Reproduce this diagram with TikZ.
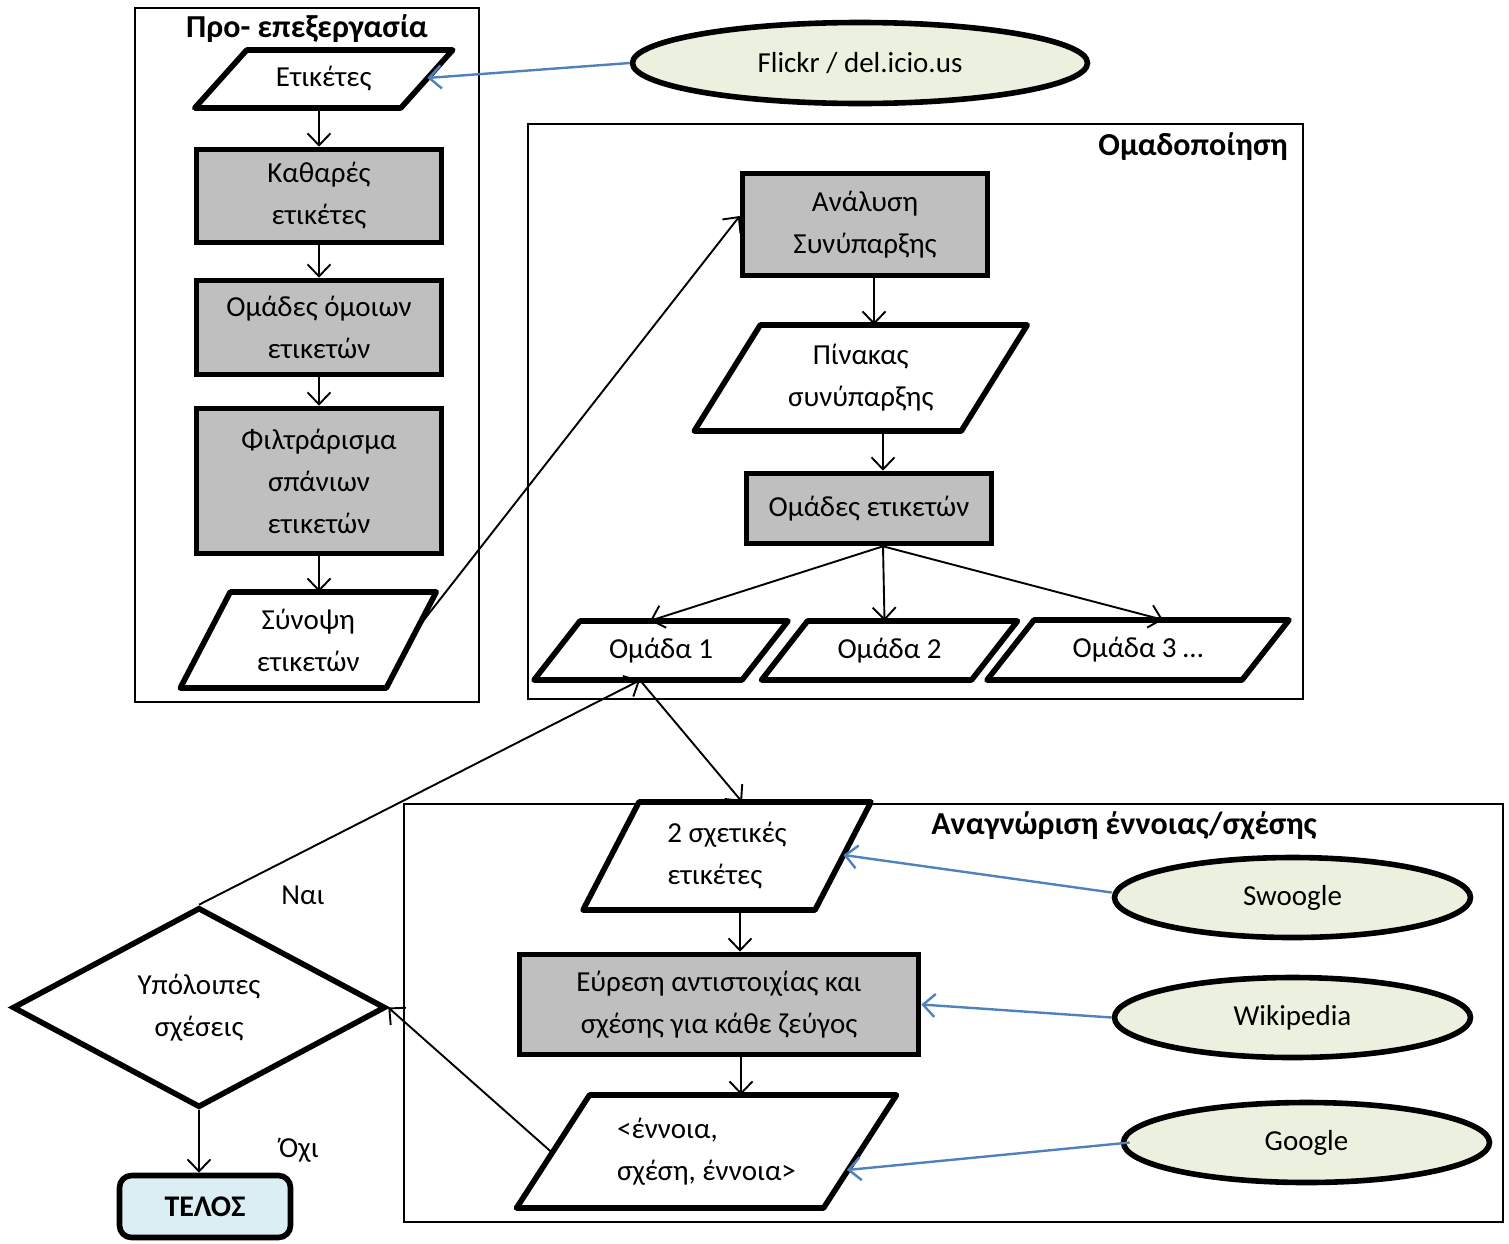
\documentclass[tikz,border=0pt]{standalone}
\usepackage{fontspec}
\setmainfont{Carlito}
\usetikzlibrary{arrows.meta,shapes.geometric}
\definecolor{procgray}{HTML}{BFBFBF}
\definecolor{srcfill}{HTML}{EBF1DE}
\definecolor{feedblue}{HTML}{4F81BD}
\definecolor{endfill}{HTML}{DAEEF3}

% parallelogram (input/output) box: [node options]{name}{cx}{cy}{half width}{half height}{half slant}{text}
\newcommand\iobox[8][]{%
  \draw[io] (#3-#5+#7,#4-#6) -- (#3+#5+#7,#4-#6) -- (#3+#5-#7,#4+#6) -- (#3-#5-#7,#4+#6) -- cycle;
  \node[iotext, minimum width={2*(#5+#7)}, minimum height={2*#6}, #1] (#2) at (#3,#4) {#8};
}

\begin{document}
\begin{tikzpicture}[x=1pt,y=-1pt,
  txt/.style={font=\fontsize{29}{42}\selectfont},
  ttl/.style={font=\bfseries\fontsize{32}{38}\selectfont, inner sep=0pt},
  frame/.style={draw, line width=2pt},
  proc/.style={txt, draw, line width=5.6pt, fill=procgray, align=center, inner sep=0pt},
  io/.style={draw, line width=5.6pt, fill=white, line join=round},
  iotext/.style={txt, align=center, inner sep=0pt},
  src/.style={txt, ellipse, draw, line width=5.6pt, fill=srcfill, inner sep=0pt},
  flow/.style={line width=1.9pt, -{Straight Barb[length=12pt,width=23pt]}},
  feed/.style={draw=feedblue, line width=2.4pt, -{Straight Barb[length=12pt,width=23pt]}},
]
\useasboundingbox (0,0) rectangle (1509,1243);

% ---------- group frames ----------
\draw[frame] (135,8) rectangle (479,702);
\draw[frame] (528,124) rectangle (1303,699);
\draw[frame] (404,804) rectangle (1503,1222);
\node[ttl] (t1) at (307,29) {Προ- επεξεργασία};
\node[ttl, anchor=east] (t2) at (1288,147) {Ομαδοποίηση};
\node[ttl] (t3) at (1124,826) {Αναγνώριση έννοιας/σχέσης};

% ---------- pre-processing ----------
\iobox{etik}{323.75}{79}{103}{29}{26}{Ετικέτες}
\node[proc, minimum width=245, minimum height=93] (kath) at (319,196) {Καθαρές\\ετικέτες};
\node[proc, minimum width=245, minimum height=94] (omo) at (319,327.5) {Ομάδες όμοιων\\ετικετών};
\node[proc, minimum width=245, minimum height=145] (fil) at (319,481) {Φιλτράρισμα\\σπάνιων\\ετικετών};
\iobox{syn}{308.25}{640}{103}{48}{25}{Σύνοψη\\ετικετών}

\node[src, minimum width=455, minimum height=81] (flickr) at (860,63) {Flickr / del.icio.us};

% ---------- clustering ----------
\node[proc, minimum width=245, minimum height=102] (ana) at (865,224.5) {Ανάλυση\\Συνύπαρξης};
\iobox{pinakas}{860.75}{378}{133.5}{53}{33}{Πίνακας\\συνύπαρξης}
\node[proc, minimum width=245, minimum height=70] (grp) at (869,508.5) {Ομάδες ετικετών};
\iobox{o1}{661}{650.5}{104}{29.5}{23}{Ομάδα 1}
\iobox{o2}{889.5}{650.5}{105}{29.5}{23}{Ομάδα 2}
\iobox{o3}{1138}{650}{127.5}{30}{23.5}{Ομάδα 3 …}

% ---------- concept / relation recognition ----------
\iobox[align=left]{pair}{727}{856}{116}{54}{28}{2 σχετικές\\ετικέτες}
\node[proc, minimum width=399, minimum height=100] (evr) at (719,1004.5) {Εύρεση αντιστοιχίας και\\σχέσης για κάθε ζεύγος};
\iobox[align=left]{triple}{706.5}{1151.5}{153.5}{56.5}{36.5}{<έννοια,\\σχέση, έννοια>}

\node[src, minimum width=356, minimum height=80] (swoogle) at (1292.5,897.5) {Swoogle};
\node[src, minimum width=356, minimum height=80] (wiki) at (1292.5,1017.5) {Wikipedia};
\node[src, minimum width=366, minimum height=80] (google) at (1306.5,1142.5) {Google};

% ---------- loop decision ----------
\node[txt, diamond, draw, line width=5.6pt, align=center, inner sep=0pt,
      minimum width=373, minimum height=200, shape aspect=1.87] (dia) at (199,1007.5) {Υπόλοιπες\\σχέσεις};
\node[txt, draw, line width=5.6pt, fill=endfill, rounded corners=12pt,
      minimum width=171, minimum height=62, inner sep=0pt,
      font=\bfseries\fontsize{30}{36}\selectfont] (telos) at (205,1206.5) {ΤΕΛΟΣ};
\node[txt] (yes) at (303,895) {Ναι};
\node[txt] (no) at (299,1150) {Όχι};

% ---------- connection points on slanted edges ----------
\coordinate (etik-e) at (427.4,78);
\coordinate (syn-e) at (417.6,628);
\coordinate (pair-e) at (843.5,855);
\coordinate (tri-w) at (552.5,1153);
\coordinate (tri-e) at (847,1170);
\coordinate (o1-b) at ([xshift=-21pt]o1.south);
\coordinate (a1) at ([xshift=9pt]ana.south);
\coordinate (g1) at ([xshift=14pt]grp.north);
\coordinate (fan) at ([xshift=14pt]grp.south);
\coordinate (p1) at ([xshift=13pt]pair.south);
\coordinate (e1) at ([xshift=22pt]evr.south);

% ---------- flow arrows ----------
\draw[flow] (kath.north |- etik.south) -- (kath.north);
\draw[flow] (kath.south) -- (omo.north);
\draw[flow] (omo.south) -- (fil.north);
\draw[flow] (fil.south) -- (fil.south |- syn.north);
\draw[flow] (syn-e) -- ([yshift=8.5pt]ana.west);
\draw[flow] (a1) -- (a1 |- pinakas.north);
\draw[flow] (g1 |- pinakas.south) -- (g1);
\draw[flow] (fan) -- ([xshift=-11pt]o1.north);
\draw[flow] (fan) -- ([xshift=-5pt]o2.north);
\draw[flow] (fan) -- ([xshift=25pt]o3.north);
\draw[flow] (dia.north) -- (o1-b);
\draw[flow] (o1-b) -- ([xshift=15pt]pair.north);
\draw[flow] (p1) -- (p1 |- evr.north);
\draw[flow] (e1) -- (e1 |- triple.north);
\draw[flow] (tri-w) -- (dia.east);
\draw[flow] (dia.south) -- (dia.south |- telos.north);

% ---------- external sources ----------
\draw[feed] (flickr.west) -- (etik-e);
\draw[feed] ([yshift=5pt]swoogle.west) -- (pair-e);
\draw[feed] (wiki.west) -- (evr.east);
\draw[feed] ([xshift=9pt]google.west) -- (tri-e);
\end{tikzpicture}
\end{document}
